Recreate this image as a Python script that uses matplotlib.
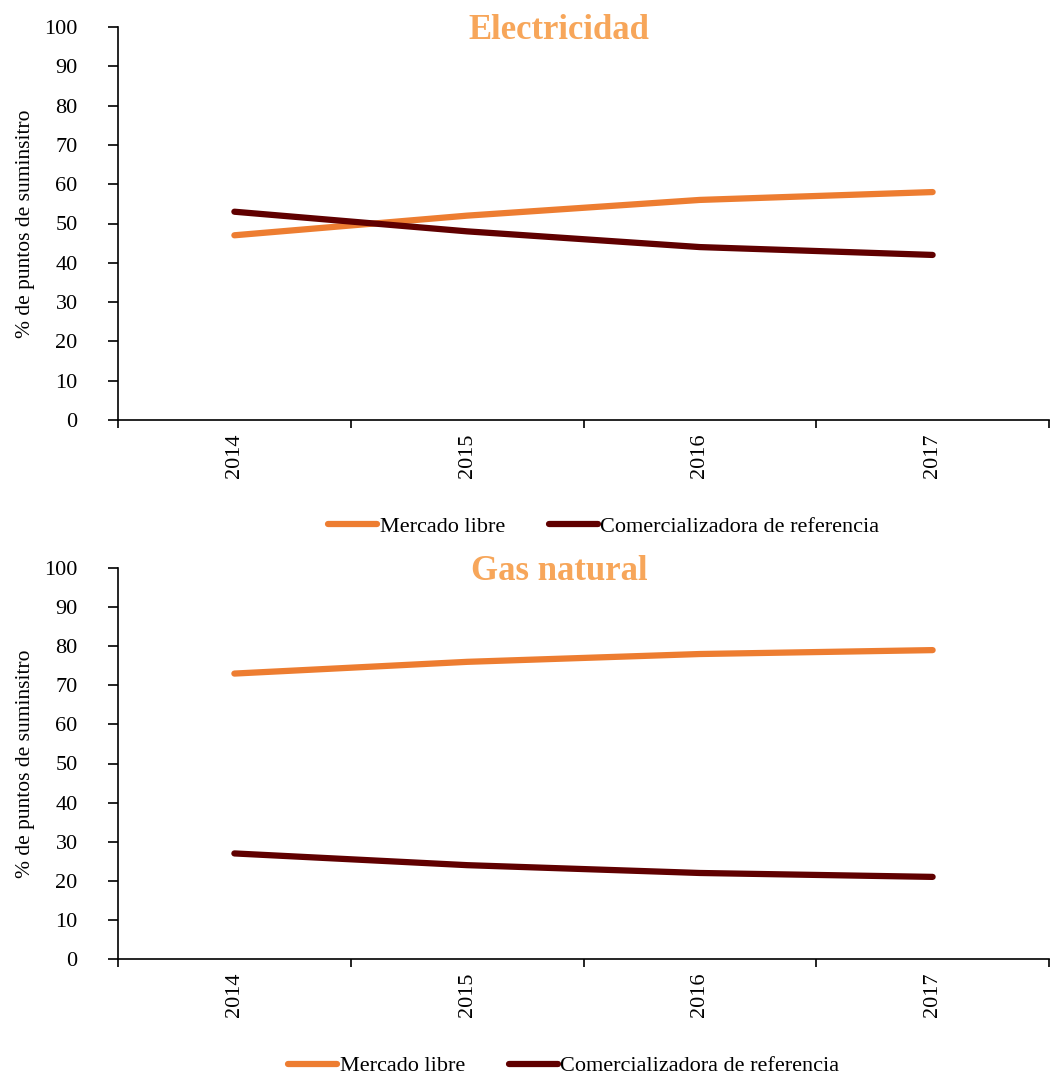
import matplotlib.pyplot as plt
from matplotlib.lines import Line2D

plt.rcParams['font.family'] = ['Liberation Serif', 'DejaVu Serif']

years = ['2014', '2015', '2016', '2017']

elec_libre = [47, 52, 56, 58]
elec_ref = [53, 48, 44, 42]

gas_libre = [73, 76, 78, 79]
gas_ref = [27, 24, 22, 21]

col_libre = '#ED7D31'
col_ref = '#600000'
col_title = '#F7A65A'

fig = plt.figure(figsize=(10.51, 10.77), dpi=100)

# axes boxes in figure fractions (left, bottom, width, height)
boxes = [(118 / 1051, 1 - 420 / 1077, 931 / 1051, 393 / 1077),
         (118 / 1051, 1 - 959 / 1077, 931 / 1051, 391 / 1077)]
legend_y = [1 - 527 / 1077, 1 - 1066 / 1077]
legend_x = [604 / 1051, 564 / 1051]

panels = [('Electricidad', elec_libre, elec_ref),
          ('Gas natural', gas_libre, gas_ref)]

for i, (title, libre, ref) in enumerate(panels):
    ax = fig.add_axes(boxes[i])
    x = range(len(years))
    ax.plot(x, libre, color=col_libre, lw=4.5, solid_capstyle='round')
    ax.plot(x, ref, color=col_ref, lw=4.5, solid_capstyle='round')

    ax.set_xlim(-0.5, len(years) - 0.5)
    ax.set_ylim(0, 100)
    ax.set_yticks(range(0, 101, 10))
    ax.set_xticks(list(x))
    ax.set_xticklabels(years, rotation=90)
    ax.set_xticks([k - 0.5 for k in range(len(years) + 1)], minor=True)
    ax.tick_params(axis='x', which='major', length=0, pad=10, labelsize=16)
    ax.tick_params(axis='x', which='minor', length=6, width=1.2, direction='out')
    ax.tick_params(axis='y', length=7, width=1.2, direction='out', labelsize=16, pad=22)

    for s in ['top', 'right']:
        ax.spines[s].set_visible(False)
    for s in ['left', 'bottom']:
        ax.spines[s].set_linewidth(1.2)

    ax.set_ylabel('% de puntos de suminsitro', fontsize=15.5, labelpad=7)
    ax.text(0.474, 0.99, title, transform=ax.transAxes, ha='center', va='center',
            fontsize=25, fontweight='bold', color=col_title)

    handles = [Line2D([], [], color=col_libre, lw=4.5, solid_capstyle='round'),
               Line2D([], [], color=col_ref, lw=4.5, solid_capstyle='round')]
    fig.legend(handles, ['Mercado libre', 'Comercializadora de referencia'],
               loc='center', bbox_to_anchor=(legend_x[i], legend_y[i]), ncol=2,
               frameon=False, fontsize=16, handlelength=2.2, handletextpad=0.1,
               columnspacing=2.0)

fig.savefig('out.png', dpi=100)
